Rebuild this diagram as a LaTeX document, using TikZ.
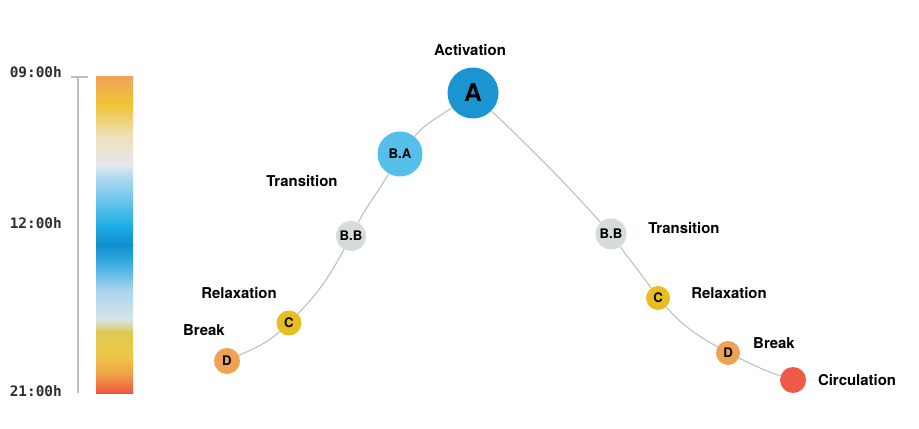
\documentclass[tikz,border=0pt]{standalone}
\usepackage{fontspec}
\setmainfont{TeX Gyre Heros}
\newfontfamily\hourfont{DejaVu Sans Mono}
\usepackage{tikz}
\usetikzlibrary{positioning}
\definecolor{actblue}{HTML}{1A95D2}
\definecolor{lightblue}{HTML}{55BFEA}
\definecolor{transgray}{HTML}{D6DBDC}
\definecolor{relaxyellow}{HTML}{E6BE22}
\definecolor{breakorange}{HTML}{EDA254}
\definecolor{circred}{HTML}{EE5A48}
\definecolor{curvegray}{HTML}{BDBDBD}
\definecolor{hourgray}{HTML}{2E2E2E}
\definecolor{gOrange}{HTML}{F0A458}
\definecolor{gYellow}{HTML}{F0C435}
\definecolor{gBeige}{HTML}{EEDFB8}
\definecolor{gPale}{HTML}{E4E8EC}
\definecolor{gSky}{HTML}{B8DCF0}
\definecolor{gBlue}{HTML}{20AEE5}
\definecolor{gDeep}{HTML}{1090D0}
\definecolor{gMid}{HTML}{34AAE0}
\definecolor{gSoft}{HTML}{A8D4EE}
\definecolor{gMist}{HTML}{D8E4E8}
\definecolor{gLime}{HTML}{DCCA52}
\definecolor{gGold}{HTML}{EEC848}
\definecolor{gAmber}{HTML}{F0A048}
\definecolor{gRed}{HTML}{EE5540}

\begin{document}
\begin{tikzpicture}[x=0.02cm, y=0.02cm,
		phase/.style={circle, inner sep=0pt, text=black, font=\bfseries\fontsize{7.5}{8}\selectfont},
		lbl/.style={font=\bfseries\fontsize{8.5}{10}\selectfont},
		hour/.style={anchor=east, text=hourgray, font=\hourfont\bfseries\fontsize{8.2}{9}\selectfont},
		link/.style={draw=curvegray, line width=0.6pt}]
	\useasboundingbox (0,0) rectangle (919,429);
	% time axis
	\draw[curvegray, line width=0.6pt] (78,352) -- (78,36) (71,352) -- (88,352);
	\node[hour] (h9) at (68,357) {09:00h};
	\node[hour] (h12) at (68,206) {12:00h};
	\node[hour] (h21) at (68,38) {21:00h};
	% colour bar
	\foreach \ya/\ca/\yb/\cb in {352/gOrange/324/gYellow, 324/gYellow/294/gBeige,
			294/gBeige/264/gPale, 264/gPale/254/gSky, 254/gSky/204/gBlue,
			204/gBlue/184/gDeep, 184/gDeep/167/gMid, 167/gMid/139/gSoft,
			139/gSoft/109/gMist, 109/gMist/97/gLime, 97/gLime/74/gGold,
			74/gGold/54/gAmber, 54/gAmber/36/gRed}
		\shade[top color=\ca, bottom color=\cb] (96,\ya+0.3) rectangle (133,\yb-0.3);
	% phases
	\node[phase, fill=actblue, minimum size=1.02cm, font=\bfseries\fontsize{14}{15}\selectfont] (A) at (473,336) {A};
	\node[phase, fill=lightblue, minimum size=0.9cm] (BA) at (400,275) {B.A};
	\node[phase, fill=transgray, minimum size=0.6cm] (BBl) at (351,193) {B.B};
	\node[phase, fill=relaxyellow, minimum size=0.5cm] (Cl) at (289,106) {C};
	\node[phase, fill=breakorange, minimum size=0.52cm] (Dl) at (227,68) {D};
	\node[phase, fill=transgray, minimum size=0.62cm] (BBr) at (611,195) {B.B};
	\node[phase, fill=relaxyellow, minimum size=0.48cm] (Cr) at (658,131) {C};
	\node[phase, fill=breakorange, minimum size=0.48cm] (Dr) at (728,76) {D};
	\node[phase, fill=circred, minimum size=0.52cm] (Circ) at (793,49) {};
	% curve
	\draw[link] (Dl) to[out=25,in=-138] (Cl);
	\draw[link] (Cl) to[out=46,in=-118] (BBl);
	\draw[link] (BBl) to[out=62,in=-120] (BA);
	\draw[link] (BA) to[out=50,in=-145] (A);
	\draw[link] (A) to[out=-44,in=132] (BBr);
	\draw[link] (BBr) to[out=-54,in=125] (Cr);
	\draw[link] (Cr) to[out=-48,in=150] (Dr);
	\draw[link] (Dr) to[out=-25,in=162] (Circ);
	% labels
	\node[lbl] (actlbl) at (470,379) {Activation};
	\node[lbl] (translbl) at (302,248) {Transition};
	\node[lbl] (relaxlbl) at (239,136) {Relaxation};
	\node[lbl] (breaklbl) at (204,99) {Break};
	\node[lbl] (transrlbl) at (684,201) {Transition};
	\node[lbl] (relaxrlbl) at (729,136) {Relaxation};
	\node[lbl] (breakrlbl) at (774,86) {Break};
	\node[lbl] (circlbl) at (857,49) {Circulation};
\end{tikzpicture}
\end{document}
